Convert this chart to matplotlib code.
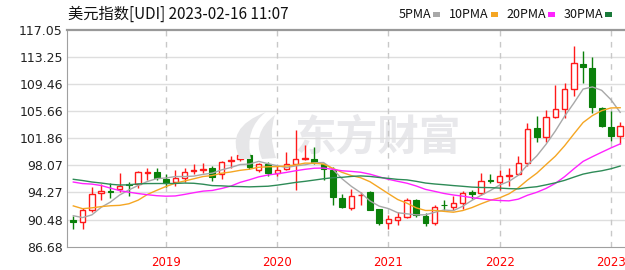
import pandas as pd
import matplotlib.pyplot as plt
from matplotlib.patches import Rectangle, PathPatch
from matplotlib.path import Path

# monthly candles, 2018-03 .. 2023-02
months = pd.period_range('2018-03', '2023-02', freq='M')
opens = [90.35, 90.15, 91.85, 94.15, 94.45, 94.70, 95.40, 95.40, 97.00, 97.10,
         96.10, 95.75, 96.25, 97.30, 97.35, 97.75, 96.90, 98.70, 98.90, 99.45,
         97.40, 98.30, 96.95, 97.60, 98.30, 98.95, 98.90, 98.20, 97.40, 93.45,
         92.05, 93.90, 94.30, 91.90, 90.05, 90.45, 90.90, 93.20, 91.00, 90.00,
         92.55, 92.30, 92.80, 94.30, 94.15, 95.95, 95.75, 96.55, 96.85, 98.45,
         103.30, 102.00, 104.85, 106.00, 108.80, 112.20, 111.70, 106.10, 103.45, 102.20]
highs = [90.93, 92.05, 95.05, 95.50, 95.60, 97.05, 95.75, 97.20, 97.70, 97.75,
         96.90, 97.40, 97.70, 98.30, 98.35, 97.95, 98.70, 99.35, 99.67, 99.72,
         98.40, 98.50, 97.90, 99.95, 103.00, 100.95, 100.65, 98.40, 97.80, 94.00,
         94.75, 94.30, 94.45, 92.00, 91.05, 91.60, 93.45, 93.30, 91.45, 92.45,
         93.20, 93.75, 94.50, 94.55, 96.95, 96.90, 97.45, 97.75, 99.40, 104.00,
         105.00, 105.80, 109.35, 109.55, 114.80, 114.00, 113.20, 106.20, 105.65, 104.15]
lows = [89.10, 89.10, 91.60, 93.20, 93.50, 94.30, 93.70, 94.90, 96.00, 95.95,
        95.00, 95.20, 95.75, 96.80, 97.00, 95.80, 96.20, 97.70, 98.60, 97.50,
        97.10, 96.60, 96.50, 97.40, 94.60, 98.80, 98.20, 96.00, 92.50, 92.10,
        91.75, 92.50, 91.75, 89.70, 89.20, 89.70, 90.65, 90.85, 89.55, 89.65,
        91.80, 91.80, 91.95, 93.30, 93.90, 95.55, 94.65, 95.15, 96.75, 98.00,
        101.30, 101.30, 104.70, 104.65, 107.70, 109.60, 105.40, 103.40, 101.50, 101.00]
closes = [90.15, 91.75, 94.00, 94.40, 94.30, 95.10, 95.30, 97.15, 97.15, 96.30,
          95.55, 96.30, 97.15, 97.45, 97.50, 96.45, 98.55, 98.85, 99.50, 97.85,
          98.30, 96.95, 97.40, 98.30, 98.95, 99.05, 98.35, 97.60, 93.65, 92.20,
          93.80, 93.95, 91.85, 89.95, 90.50, 90.90, 93.20, 91.10, 90.00, 92.30,
          92.45, 92.75, 94.15, 94.10, 95.90, 95.80, 96.60, 96.65, 98.35, 103.20,
          102.05, 104.75, 105.90, 108.70, 112.40, 111.85, 106.25, 103.55, 102.15, 103.55]
# closes before the window (2015-10 .. 2018-02), needed for the moving averages
prior_closes = [96.92, 100.17, 98.63, 99.61, 98.20, 94.59, 93.07, 95.87, 96.14, 95.53,
                96.02, 95.45, 98.40, 101.50, 102.21, 99.51, 101.13, 100.35, 99.05, 96.94,
                95.63, 92.86, 92.67, 93.08, 94.55, 93.05, 92.12, 89.13, 90.61]

yticks = [86.68, 90.48, 94.27, 98.07, 101.86, 105.66, 109.46, 113.25, 117.05]
year_labels = ['2019', '2020', '2021', '2022', '2023']
ma_names = ['5PMA', '10PMA', '20PMA', '30PMA']
ma_windows = [5, 10, 20, 30]
ma_colors = ['#a8a8a8', '#f5a623', '#ff22ff', '#2e8b57']
legend_colors = ['#a8a8a8', '#f5a623', '#ff22ff', '#1a7a3a']

RED = '#ff1a1a'
GREEN = '#0a800a'
W, H = 625, 270

df = pd.DataFrame({'open': opens, 'high': highs, 'low': lows, 'close': closes}, index=months)
all_close = pd.Series(prior_closes + closes)
x = list(range(len(df)))

fig = plt.figure(figsize=(W / 100, H / 100), dpi=100)
ax = fig.add_axes([67 / W, (H - 246.7) / H, (W - 67) / W, (246.7 - 29.5) / H])
ax.set_xlim(-0.68, 59.52)
ax.set_ylim(86.68, 117.05)


def px(pts):
    # pixel coords (y down) -> figure fraction
    return [(a / W, (H - b) / H) for a, b in pts]


# watermark: logo blades + text
blade1 = px([(240, 159), (224, 128), (266, 112), (244, 129), (251, 159), (240, 159)])
blade2 = px([(262, 159), (251, 133), (275, 115), (268, 135), (276, 158), (262, 159)])
codes = [Path.MOVETO, Path.CURVE3, Path.CURVE3, Path.CURVE3, Path.CURVE3, Path.CLOSEPOLY]
for b in (blade1, blade2):
    fig.add_artist(PathPatch(Path(b, codes), transform=fig.transFigure,
                             facecolor='#e6e6e8', edgecolor='none', zorder=0.5))
ax.text(378 / W, (H - 137) / H, '东方财富', transform=fig.transFigure, ha='center', va='center',
        fontsize=30, fontweight='bold', color='#e8e8eb', family=['Noto Sans CJK SC'], zorder=0.5)

# grid
for v in yticks[1:-1]:
    ax.axhline(v, color='#dedede', lw=1, zorder=1)
year_pos = [i for i, m in enumerate(months) if m.month == 1]
for p in year_pos:
    ax.axvline(p, color='#c8c8c8', lw=1, ls=(0, (4, 4)), zorder=1)

# candles
up = df['close'] >= df['open']
for i, (_, r) in enumerate(df.iterrows()):
    if up.iloc[i]:
        ax.vlines(i, r['low'], r['high'], color=RED, lw=1, zorder=2)
        ax.bar(i, max(r['close'] - r['open'], 0.05), bottom=r['open'], width=0.58,
               facecolor='white', edgecolor=RED, lw=1, zorder=3)
    else:
        ax.vlines(i, r['low'], r['high'], color=GREEN, lw=1, zorder=2)
        ax.bar(i, max(r['open'] - r['close'], 0.05), bottom=r['close'], width=0.62,
               facecolor=GREEN, edgecolor=GREEN, lw=0.8, zorder=3)

# moving averages
for win, col in zip(ma_windows, ma_colors):
    ma = all_close.rolling(win).mean().iloc[len(prior_closes):]
    ax.plot(x, ma.values, color=col, lw=1, zorder=4)

# axes style
ax.set_yticks(yticks)
ax.set_yticklabels(['%.2f' % v for v in yticks])
ax.set_xticks(year_pos)
ax.set_xticklabels(year_labels)
ax.tick_params(axis='y', length=0, pad=3, labelsize=9, labelcolor='#222222')
ax.tick_params(axis='x', length=0, pad=7, labelsize=8.5, labelcolor='#ff0000')
ax.spines['right'].set_visible(False)
ax.spines['left'].set_color('#a0a0a0')
ax.spines['bottom'].set_color('#a0a0a0')
ax.spines['top'].set_color('#999999')
ax.spines['top'].set_linewidth(1.6)

# title
fig.text(68 / W, (H - 14) / H, '美元指数[UDI] 2023-02-16 11:07', ha='left', va='center',
         fontsize=11, color='#111111', family=['Noto Sans CJK SC', 'DejaVu Sans'])

# legend
text_ends = [431, 489, 546, 603]
for name, col, xe in zip(ma_names, legend_colors, text_ends):
    fig.text(xe / W, (H - 14.5) / H, name, ha='right', va='center', fontsize=9,
             color='#111111', family=['Noto Sans CJK SC', 'DejaVu Sans'])
    fig.add_artist(Rectangle(((xe + 2) / W, (H - 16.5) / H), 7 / W, 4 / H,
                             transform=fig.transFigure, facecolor=col, edgecolor='none'))

fig.savefig('out.png', dpi=100)
